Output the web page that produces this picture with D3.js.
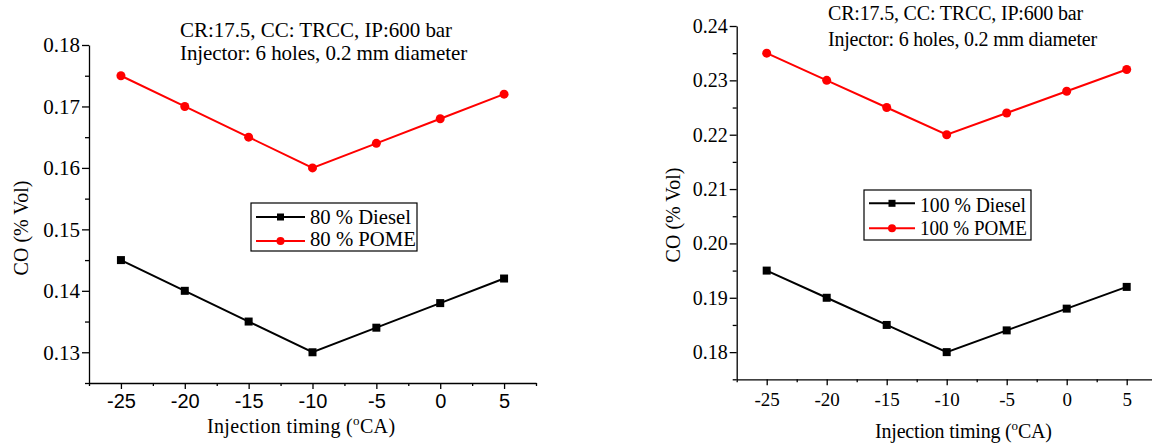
<!DOCTYPE html>
<html>
<head>
<meta charset="utf-8">
<script src="https://cdn.jsdelivr.net/npm/d3@7"></script>
<style>
  html, body { margin: 0; padding: 0; background: #fff; }
  svg { display: block; }
</style>
</head>
<body>
<svg id="chart" width="1152" height="448"></svg>
<script>
// Injection timing (°CA)
const timing = [-25, -20, -15, -10, -5, 0, 5];

// CO emissions (% Vol), 80 % load
const diesel80 = [0.145, 0.140, 0.135, 0.130, 0.134, 0.138, 0.142];
const pome80   = [0.175, 0.170, 0.165, 0.160, 0.164, 0.168, 0.172];

// CO emissions (% Vol), 100 % load
const diesel100 = [0.195, 0.190, 0.185, 0.180, 0.184, 0.188, 0.192];
const pome100   = [0.235, 0.230, 0.225, 0.220, 0.224, 0.228, 0.232];

// Axis ticks
const xTicks = [-25, -20, -15, -10, -5, 0, 5];
const yTicksLeft  = [0.13, 0.14, 0.15, 0.16, 0.17, 0.18];
const yTicksRight = [0.18, 0.19, 0.20, 0.21, 0.22, 0.23, 0.24];

const seriesLeft  = ["80 % Diesel", "80 % POME"];
const seriesRight = ["100 % Diesel", "100 % POME"];
const noteLines = ["CR:17.5, CC: TRCC, IP:600 bar", "Injector: 6 holes, 0.2 mm diameter"];

const SERIF = "'Liberation Serif', 'Times New Roman', serif";
const SANS  = "'Liberation Sans', Arial, sans-serif";

const svg = d3.select("#chart");
const hyphenFmt = d => String(d);   // plain hyphen for negative ticks

// tighten/loosen tracking so a text run spans the given width
function fitWidth(sel, target) {
  const node = sel.node();
  const w = node.getComputedTextLength();
  const n = node.textContent.length;
  if (n > 1) sel.attr("letter-spacing", ((target - w) / n).toFixed(2));
}

// stretch/condense a text horizontally so it spans the given width
function squeeze(sel, x, y, target) {
  const w = sel.node().getComputedTextLength();
  sel.attr("x", 0).attr("y", 0)
     .attr("transform", `translate(${x},${y}) scale(${(target / w).toFixed(4)},1)`);
}

function panel(cfg) {
  const g = svg.append("g");
  const x = d3.scaleLinear().domain([-27.5, 7.5]).range([cfg.x0, cfg.x1]);
  const y = d3.scaleLinear().domain(cfg.yDomain).range([cfg.y0, cfg.y1]);

  // minor ticks
  const xMinor = d3.range(-27.5, 7.6, 2.5).filter(v => !xTicks.includes(v));
  const yMinor = d3.range(cfg.yDomain[0], cfg.yDomain[1] + 1e-9, 0.005)
    .filter(v => !cfg.yTicks.some(t => Math.abs(t - v) < 1e-9));

  g.append("g")
    .attr("transform", `translate(0,${cfg.y0})`)
    .call(d3.axisBottom(x).tickValues(xMinor).tickSize(3).tickSizeOuter(0).tickFormat(""))
    .call(a => a.select(".domain").remove())
    .call(a => a.selectAll("line").attr("stroke-width", 1.3));

  g.append("g")
    .attr("transform", `translate(${cfg.x0},0)`)
    .call(d3.axisLeft(y).tickValues(yMinor).tickSize(4).tickSizeOuter(0).tickFormat(""))
    .call(a => a.select(".domain").remove())
    .call(a => a.selectAll("line").attr("stroke-width", 1.3));

  // major x axis
  const xa = g.append("g")
    .attr("transform", `translate(0,${cfg.y0})`)
    .call(d3.axisBottom(x).tickValues(xTicks).tickSize(6).tickSizeOuter(0).tickFormat(hyphenFmt));
  xa.select(".domain").attr("stroke-width", 1.3);
  xa.selectAll("line").attr("stroke-width", 1.3);
  xa.selectAll("text")
    .attr("y", cfg.xLabelOff).attr("dy", 0)
    .attr("font-family", cfg.xTickFont).attr("font-size", cfg.xTickSize)
    .attr("fill", "#000");

  // major y axis
  const ya = g.append("g")
    .attr("transform", `translate(${cfg.x0},0)`)
    .call(d3.axisLeft(y).tickValues(cfg.yTicks).tickSize(7).tickSizeOuter(0).tickPadding(2).tickFormat(d3.format(".2f")));
  ya.select(".domain").attr("stroke-width", 1.3);
  ya.selectAll("line").attr("stroke-width", 1.3);
  ya.selectAll("text")
    .attr("font-family", SERIF).attr("font-size", cfg.yTickSize)
    .attr("fill", "#000");

  // axis titles
  g.append("text")
    .attr("transform", `translate(${cfg.yTitleX},${cfg.yTitleY}) rotate(-90)`)
    .attr("text-anchor", "middle")
    .attr("font-family", SERIF).attr("font-size", 20)
    .text("CO (% Vol)");

  const xt = g.append("text")
    .attr("x", cfg.xTitleX).attr("y", cfg.xTitleY)
    .attr("font-family", SERIF).attr("font-size", 20);
  xt.append("tspan").text("Injection timing (");
  xt.append("tspan").attr("dy", -8).attr("font-size", 13).text("o");
  xt.append("tspan").attr("dy", 8).text("CA)");
  {
    const w = xt.node().getComputedTextLength();
    xt.attr("letter-spacing", ((cfg.xTitleLen - w) / 21).toFixed(2));
  }

  // annotation
  noteLines.forEach((t, i) => {
    const nt = g.append("text")
      .attr("x", cfg.noteX).attr("y", cfg.noteY[i])
      .attr("font-family", SERIF).attr("font-size", cfg.noteSize)
      .text(t);
    fitWidth(nt, cfg.noteLen[i]);
  });

  // series lines and markers
  const line = d3.line().x((d, i) => x(timing[i])).y(d => y(d));
  const series = [
    { vals: cfg.diesel, color: "#000000", shape: "square" },
    { vals: cfg.pome, color: "#ff0000", shape: "circle" }
  ];
  series.forEach(s => {
    g.append("path")
      .datum(s.vals)
      .attr("d", line)
      .attr("fill", "none")
      .attr("stroke", s.color)
      .attr("stroke-width", 2);
    if (s.shape === "square") {
      g.selectAll(null).data(s.vals).enter().append("rect")
        .attr("x", (d, i) => x(timing[i]) - 4).attr("y", d => y(d) - 4)
        .attr("width", 8).attr("height", 8).attr("fill", s.color);
    } else {
      g.selectAll(null).data(s.vals).enter().append("circle")
        .attr("cx", (d, i) => x(timing[i])).attr("cy", d => y(d))
        .attr("r", 4.5).attr("fill", s.color);
    }
  });

  // legend
  const L = cfg.legend;
  const lg = g.append("g");
  lg.append("rect")
    .attr("x", L.x).attr("y", L.y).attr("width", L.w).attr("height", L.h)
    .attr("fill", "#fff").attr("stroke", "#000").attr("stroke-width", 1.2);
  series.forEach((s, i) => {
    const ry = L.rows[i];
    lg.append("line")
      .attr("x1", L.lineX0).attr("x2", L.lineX1)
      .attr("y1", ry).attr("y2", ry)
      .attr("stroke", s.color).attr("stroke-width", 2);
    const mx = (L.lineX0 + L.lineX1) / 2;
    if (s.shape === "square") {
      lg.append("rect").attr("x", mx - 3.5).attr("y", ry - 3.5).attr("width", 7).attr("height", 7).attr("fill", s.color);
    } else {
      lg.append("circle").attr("cx", mx).attr("cy", ry).attr("r", 4).attr("fill", s.color);
    }
    const lt = lg.append("text")
      .attr("font-family", SERIF).attr("font-size", L.size)
      .text(cfg.names[i]);
    squeeze(lt, L.textX, L.base[i], L.textLen[i]);
  });
}

panel({
  x0: 89, x1: 536, y0: 383, y1: 45,
  yDomain: [0.125, 0.18], yTicks: yTicksLeft,
  diesel: diesel80, pome: pome80, names: seriesLeft,
  xTickFont: SANS, xTickSize: 20, xLabelOff: 25, yTickSize: 21,
  yTitleX: 28, yTitleY: 228,
  xTitleX: 207, xTitleY: 433, xTitleLen: 188,
  noteX: 180, noteY: [37, 59.5], noteSize: 21, noteLen: [272, 287],
  legend: { x: 251, y: 203, w: 166, h: 48, rows: [217, 241], base: [223.5, 246],
            lineX0: 256, lineX1: 305, textX: 310, size: 20, textLen: [101, 106] }
});

panel({
  x0: 736.7, x1: 1156.7, y0: 379.3, y1: 26,
  yDomain: [0.175, 0.24], yTicks: yTicksRight,
  diesel: diesel100, pome: pome100, names: seriesRight,
  xTickFont: SERIF, xTickSize: 19, xLabelOff: 27, yTickSize: 20,
  yTitleX: 680, yTitleY: 215,
  xTitleX: 875, xTitleY: 438, xTitleLen: 177,
  noteX: 828, noteY: [19.5, 46], noteSize: 20, noteLen: [255, 269],
  legend: { x: 864, y: 190, w: 167, h: 50, rows: [203.3, 228.3], base: [211.5, 235],
            lineX0: 869, lineX1: 915, textX: 920, size: 21, textLen: [106, 107] }
});
</script>
</body>
</html>
